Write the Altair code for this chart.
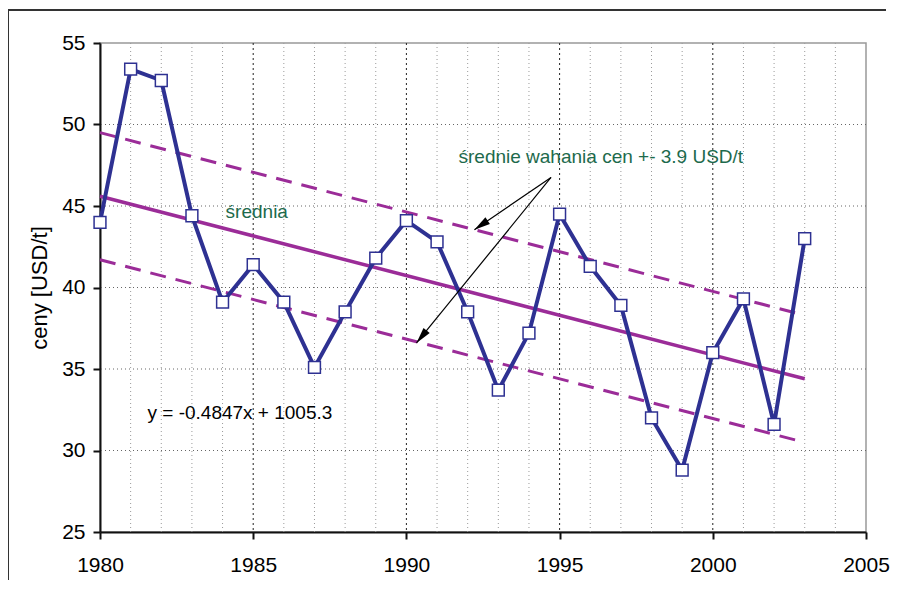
import math
import altair as alt
import pandas as pd

# ---- data ----
years = list(range(1980, 2004))
prices = [44.0, 53.4, 52.7, 44.4, 39.1, 41.4, 39.1, 35.1, 38.5, 41.8, 44.1, 42.8,
          38.5, 33.7, 37.2, 44.5, 41.3, 38.9, 32.0, 28.8, 36.0, 39.3, 31.6, 43.0]

trend_years = [1980, 2003]
trend_mid = [45.6, 34.4]
trend_upper = [49.5, 38.3]
trend_lower = [41.7, 30.5]

grid_minor_years = [y for y in range(1981, 2005) if y % 5 != 0]
grid_major_years = [1985, 1990, 1995, 2000]
grid_h_values = [30, 35, 40, 45, 50]

x_ticks = [1980, 1985, 1990, 1995, 2000, 2005]
y_ticks = [25, 30, 35, 40, 45, 50, 55]

labels_text = ["średnia", "średnie wahania cen +- 3.9 USD/t", "y = -0.4847x + 1005.3"]
labels_x = [1984.1, 1991.7, 1981.55]
labels_y = [44.65, 48.0, 32.3]
labels_color = ["#1d6a4c", "#1d6a4c", "#000000"]

arrow_start = (1994.72, 46.75)
arrow_ends_x = [1992.22, 1990.33]
arrow_ends_y = [43.55, 36.6]

# ---- layout ----
W, H = 766, 489
XD = [1980, 2005]
YD = [25, 55]
FONT = "Liberation Sans"

xs = alt.Scale(domain=XD, nice=False, zero=False)
ys = alt.Scale(domain=YD, nice=False, zero=False)

NAVY = "#2e3192"
PURPLE = "#9b2c98"

df = pd.DataFrame({"year": years, "price": prices})
trend_df = pd.DataFrame({"year": trend_years, "mid": trend_mid,
                         "upper": trend_upper, "lower": trend_lower})

AX = dict(labelFont=FONT, labelFontSize=21, labelColor="black",
          domainColor="#111111", domainWidth=2, tickColor="#111111", tickWidth=2,
          tickSize=7, grid=False, labelFlush=False, labelOverlap=False)

X = alt.X("year:Q", scale=xs,
          axis=alt.Axis(values=x_ticks, format="d", title=None, labelPadding=15, **AX))
Y = alt.Y("price:Q", scale=ys,
          axis=alt.Axis(values=y_ticks, title="ceny [USD/t]", labelPadding=8,
                        titleFont=FONT, titleFontSize=22, titleFontWeight="normal",
                        titleColor="black", titlePadding=10, **AX))

# grid
minor = alt.Chart(pd.DataFrame({"year": grid_minor_years})).mark_rule(
    color="#9a9a9a", strokeWidth=1, strokeDash=[1, 3]
).encode(x=alt.X("year:Q", scale=xs))
major = alt.Chart(pd.DataFrame({"year": grid_major_years})).mark_rule(
    color="#222222", strokeWidth=1, strokeDash=[2, 3]
).encode(x=alt.X("year:Q", scale=xs))
hgrid = alt.Chart(pd.DataFrame({"price": grid_h_values})).mark_rule(
    color="#666666", strokeWidth=1, strokeDash=[1, 3]
).encode(y=alt.Y("price:Q", scale=ys))

# outer frame of chart area (top and left edges)
frame_top = alt.Chart(pd.DataFrame({"a": [0]})).mark_rule(
    color="#333333", strokeWidth=2
).encode(x=alt.value(-92), x2=alt.value(786), y=alt.value(-33))
frame_left = alt.Chart(pd.DataFrame({"a": [0]})).mark_rule(
    color="#333333", strokeWidth=2
).encode(x=alt.value(-92), y=alt.value(-33), y2=alt.value(537))

# trend lines
mid = alt.Chart(trend_df).mark_line(color=PURPLE, strokeWidth=3.5).encode(
    x=alt.X("year:Q", scale=xs), y=alt.Y("mid:Q", scale=ys))
up = alt.Chart(trend_df).mark_line(color=PURPLE, strokeWidth=3, strokeDash=[16, 10]).encode(
    x=alt.X("year:Q", scale=xs), y=alt.Y("upper:Q", scale=ys))
lo = alt.Chart(trend_df).mark_line(color=PURPLE, strokeWidth=3, strokeDash=[16, 10]).encode(
    x=alt.X("year:Q", scale=xs), y=alt.Y("lower:Q", scale=ys))

# data series
line = alt.Chart(df).mark_line(color=NAVY, strokeWidth=4).encode(x=X, y=Y)
pts = alt.Chart(df).mark_point(
    shape="square", filled=True, fill="white", stroke=NAVY, strokeWidth=1.5,
    size=140, opacity=1
).encode(x=alt.X("year:Q", scale=xs), y=alt.Y("price:Q", scale=ys))

# arrows
px_x = W / (XD[1] - XD[0])
px_y = H / (YD[1] - YD[0])
angles = []
for ex, ey in zip(arrow_ends_x, arrow_ends_y):
    dx = (ex - arrow_start[0]) * px_x
    dy = -(ey - arrow_start[1]) * px_y
    angles.append(math.degrees(math.atan2(dx, -dy)) % 360)
arrow_df = pd.DataFrame({
    "x0": [arrow_start[0]] * len(arrow_ends_x), "y0": [arrow_start[1]] * len(arrow_ends_x),
    "x1": arrow_ends_x, "y1": arrow_ends_y, "ang": angles,
})
arrow_lines = alt.Chart(arrow_df).mark_rule(color="black", strokeWidth=1.2).encode(
    x=alt.X("x0:Q", scale=xs), y=alt.Y("y0:Q", scale=ys),
    x2="x1:Q", y2="y1:Q")
arrow_heads = alt.Chart(arrow_df).mark_point(
    shape="M0,0L-0.25,1L0.25,1Z", filled=True, color="black", size=1024, opacity=1
).encode(x=alt.X("x1:Q", scale=xs), y=alt.Y("y1:Q", scale=ys),
         angle=alt.Angle("ang:Q", scale=None))

# texts
text_df = pd.DataFrame({"t": labels_text, "x": labels_x, "y": labels_y, "c": labels_color})
texts = alt.Chart(text_df).mark_text(
    align="left", baseline="middle", font=FONT, fontSize=19
).encode(x=alt.X("x:Q", scale=xs), y=alt.Y("y:Q", scale=ys), text="t:N",
         color=alt.Color("c:N", scale=None))

chart = alt.layer(
    frame_top, frame_left, minor, major, hgrid, lo, up, mid, line, pts,
    arrow_lines, arrow_heads, texts
).properties(
    width=W, height=H,
    autosize=alt.AutoSizeParams(type="none"),
    padding={"left": 92, "top": 35, "right": 24, "bottom": 53},
).configure_view(
    stroke="#999999", strokeWidth=1.5
)

chart.save("out.html", embed_options={"renderer": "svg", "actions": False})
